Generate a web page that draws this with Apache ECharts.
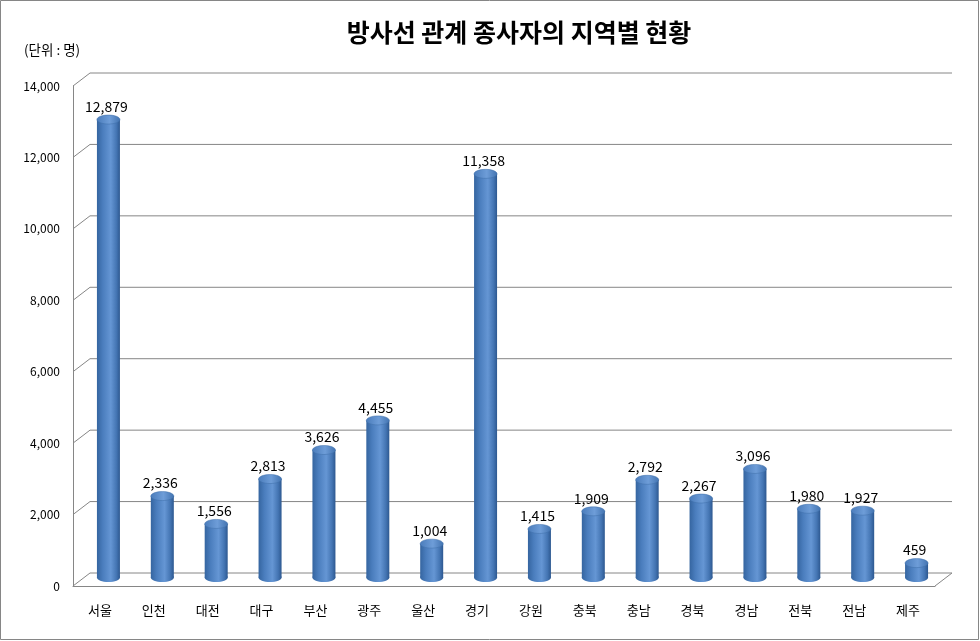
<!DOCTYPE html>
<html><head><meta charset="utf-8">
<script src="https://cdn.jsdelivr.net/npm/echarts@6/dist/echarts.min.js"></script>
<style>html,body{margin:0;padding:0;background:#fff}#c{width:980px;height:641px}</style>
</head><body><div id="c"></div>
<script>
const titleText = '방사선 관계 종사자의 지역별 현황';
const unitText = '(단위 : 명)';
const categories = ['서울','인천','대전','대구','부산','광주','울산','경기','강원','충북','충남','경북','경남','전북','전남','제주'];
const values = [12879,2336,1556,2813,3626,4455,1004,11358,1415,1909,2792,2267,3096,1980,1927,459];
const yTicks = [0,2000,4000,6000,8000,10000,12000,14000];

const DX = 17, DY = -13; // depth offset of back wall
const FONT = '"Noto Sans CJK KR", "Noto Sans", sans-serif';
const fmt = v => v.toLocaleString('en-US');

const chart = echarts.init(document.getElementById('c'));
chart.setOption({
  animation: false,
  backgroundColor: '#fff',
  title: {
    text: titleText, left: 514, top: 15, textAlign: 'center',
    textStyle: {fontFamily: FONT, fontSize: 25, fontWeight: 'bold', color: '#000'}
  },
  graphic: [
    {type: 'rect', shape: {x: 0.5, y: 0.5, width: 978, height: 639}, style: {fill: 'none', stroke: '#868686', lineWidth: 1}, silent: true},
    {type: 'text', left: 24, top: 43, style: {text: unitText, font: '13.5px ' + FONT, fill: '#000'}}
  ],
  grid: {left: 73, right: 45, top: 86, bottom: 55},
  xAxis: {
    type: 'category', data: categories,
    axisLine: {show: true, lineStyle: {color: '#868686', width: 1}},
    axisTick: {show: false},
    axisLabel: {color: '#000', fontFamily: FONT, fontSize: 13, margin: 18}
  },
  yAxis: {
    type: 'value', min: 0, max: 14000, interval: 2000,
    axisLine: {show: true, lineStyle: {color: '#868686', width: 1}},
    axisTick: {show: false},
    splitLine: {show: false},
    axisLabel: {color: '#000', fontFamily: FONT, fontSize: 12, margin: 13, formatter: v => fmt(v)}
  },
  series: [
    {
      type: 'custom', z: 1, silent: true, clip: false,
      data: yTicks.map(t => [0, t]),
      renderItem: function (params, api) {
        const cs = params.coordSys;
        const y = api.coord([0, api.value(1)])[1];
        const x0 = cs.x, x1 = cs.x + cs.width;
        const ls = {stroke: '#868686', lineWidth: 1};
        const ch = [
          {type: 'line', shape: {x1: x0 + DX, y1: y + DY, x2: x1 + DX, y2: y + DY}, style: ls},
          {type: 'line', shape: {x1: x0, y1: y, x2: x0 + DX, y2: y + DY}, style: ls}
        ];
        if (api.value(1) === 0) {
          ch.push({type: 'line', shape: {x1: x1, y1: y, x2: x1 + DX, y2: y + DY}, style: ls});
        }
        return {type: 'group', children: ch};
      }
    },
    {
      type: 'custom', z: 5, silent: true, clip: false,
      data: values.map((v, i) => [i, v]),
      renderItem: function (params, api) {
        const p = api.coord([api.value(0), api.value(1)]);
        const b = api.coord([api.value(0), 0]);
        const cx = p[0] + DX / 2;
        const topY = p[1] + DY / 2;
        const botY = b[1] + DY / 2 - 2;
        const rx = 11.5, ry = 4.5;
        const bodyGrad = new echarts.graphic.LinearGradient(0, 0, 1, 0, [
          {offset: 0, color: '#3565a0'},
          {offset: 0.25, color: '#4a7dbd'},
          {offset: 0.6, color: '#6596d4'},
          {offset: 0.85, color: '#4475b3'},
          {offset: 1, color: '#2d5890'}
        ]);
        const topGrad = new echarts.graphic.LinearGradient(0, 0, 1, 0, [
          {offset: 0, color: '#4a7cbb'},
          {offset: 0.55, color: '#6e9dd8'},
          {offset: 1, color: '#4273b0'}
        ]);
        return {
          type: 'group',
          children: [
            {type: 'ellipse', shape: {cx: cx, cy: botY, rx: rx, ry: ry}, style: {fill: bodyGrad}},
            {type: 'rect', shape: {x: cx - rx, y: topY, width: rx * 2, height: botY - topY}, style: {fill: bodyGrad}},
            {type: 'ellipse', shape: {cx: cx, cy: topY, rx: rx, ry: ry}, style: {fill: topGrad, stroke: '#3f6ea9', lineWidth: 0.5}},
            {type: 'text', style: {text: fmt(api.value(1)), x: cx - 2, y: topY - 6, textAlign: 'center', textVerticalAlign: 'bottom', font: '14px ' + FONT, fill: '#000'}}
          ]
        };
      }
    }
  ]
});
</script></body></html>
